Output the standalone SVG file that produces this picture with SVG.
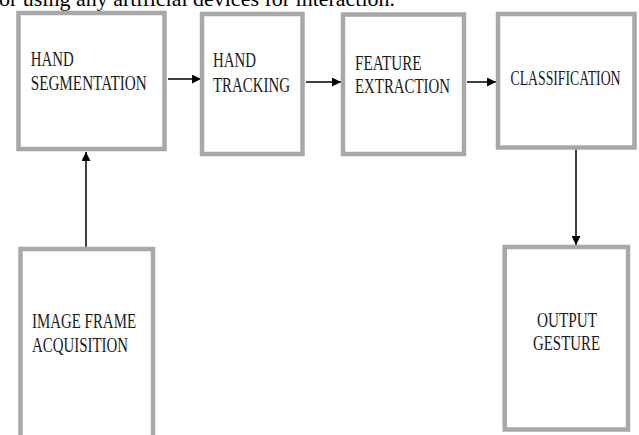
<svg xmlns="http://www.w3.org/2000/svg" width="639" height="435" viewBox="0 0 639 435">
  <style>
    .box { fill: #ffffff; stroke: #a8a8a8; stroke-width: 4.5; }
    .lbl { font-family: "Liberation Serif", "Times New Roman", serif; font-size: 20px; fill: #1a1a1a; }
    .top { font-family: "Liberation Serif", "Times New Roman", serif; font-size: 22px; fill: #000000; }
    .conn { stroke: #000000; stroke-width: 1.5; fill: none; }
  </style>
  <defs>
    <marker id="arrow" markerUnits="userSpaceOnUse" markerWidth="9" markerHeight="9" refX="9" refY="4.5" orient="auto">
      <path d="M0,0 L9,4.5 L0,9 Z" fill="#000000"/>
    </marker>
  </defs>
  <rect x="0" y="0" width="639" height="435" fill="#ffffff"/>

  <text class="top" x="-1" y="6" textLength="396" lengthAdjust="spacingAndGlyphs">or using any artificial devices for interaction.</text>
  <rect x="395" y="14" width="7" height="3" fill="#000000"/>

  <g id="connectors">
    <line class="conn" x1="168" y1="79" x2="201" y2="79" marker-end="url(#arrow)"/>
    <line class="conn" x1="306" y1="82" x2="341" y2="82" marker-end="url(#arrow)"/>
    <line class="conn" x1="467" y1="82" x2="496" y2="82" marker-end="url(#arrow)"/>
    <line class="conn" x1="86" y1="249" x2="86" y2="152" marker-end="url(#arrow)"/>
    <line class="conn" x1="576" y1="149" x2="576" y2="245" marker-end="url(#arrow)"/>
  </g>

  <g id="hand-segmentation">
    <rect class="box" x="18.5" y="13" width="146" height="136"/>
    <text class="lbl" x="30.7" y="66" textLength="43" lengthAdjust="spacingAndGlyphs">HAND</text>
    <text class="lbl" x="30.7" y="90" textLength="116" lengthAdjust="spacingAndGlyphs">SEGMENTATION</text>
  </g>

  <g id="hand-tracking">
    <rect class="box" x="202" y="14" width="100.5" height="140"/>
    <text class="lbl" x="213" y="67" textLength="43" lengthAdjust="spacingAndGlyphs">HAND</text>
    <text class="lbl" x="213" y="91.5" textLength="77" lengthAdjust="spacingAndGlyphs">TRACKING</text>
  </g>

  <g id="feature-extraction">
    <rect class="box" x="343" y="14.5" width="121" height="139.5"/>
    <text class="lbl" x="355" y="69.5" textLength="66.5" lengthAdjust="spacingAndGlyphs">FEATURE</text>
    <text class="lbl" x="355" y="93" textLength="95" lengthAdjust="spacingAndGlyphs">EXTRACTION</text>
  </g>

  <g id="classification">
    <rect class="box" x="498" y="14" width="136.5" height="133.5"/>
    <text class="lbl" x="510.5" y="85" textLength="110" lengthAdjust="spacingAndGlyphs">CLASSIFICATION</text>
  </g>

  <g id="image-frame-acquisition">
    <rect class="box" x="20.5" y="249" width="132.5" height="200"/>
    <text class="lbl" x="32" y="328" textLength="104" lengthAdjust="spacingAndGlyphs">IMAGE FRAME</text>
    <text class="lbl" x="32" y="352" textLength="96" lengthAdjust="spacingAndGlyphs">ACQUISITION</text>
  </g>

  <g id="output-gesture">
    <rect class="box" x="504.7" y="247" width="123.3" height="182.5"/>
    <text class="lbl" x="537" y="327" textLength="60" lengthAdjust="spacingAndGlyphs">OUTPUT</text>
    <text class="lbl" x="533" y="350" textLength="67" lengthAdjust="spacingAndGlyphs">GESTURE</text>
  </g>
</svg>
